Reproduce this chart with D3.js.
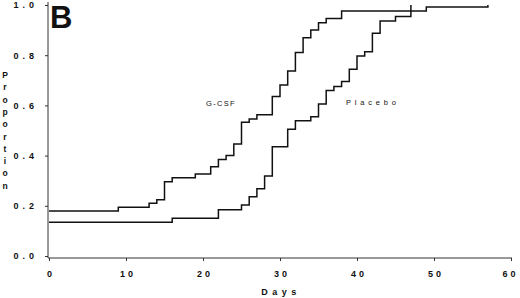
<!DOCTYPE html>
<html>
<head>
<meta charset="utf-8">
<script src="https://cdn.jsdelivr.net/npm/d3@7"></script>
<style>
  body { margin: 0; background: #fff; }
  svg text { font-family: "Liberation Sans", Arial, sans-serif; fill: #111; }
</style>
</head>
<body>
<div id="chart"></div>
<script>
// step points: [day, proportion]
const gcsfDays   = [0, 9, 13, 14, 15, 16, 19, 21, 22, 23, 24, 25, 26, 27, 29, 30, 31, 32, 33, 34, 35, 36, 38, 47];
const gcsfVals   = [0.179, 0.194, 0.21, 0.224, 0.296, 0.312, 0.327, 0.356, 0.384, 0.40, 0.446, 0.533, 0.546, 0.563,
                    0.635, 0.681, 0.737, 0.811, 0.87, 0.90, 0.929, 0.946, 0.976, 1.0];
const placeboDays = [0, 16, 22, 25, 26, 27, 28, 29, 31, 32, 34, 35, 36, 37, 38, 39, 40, 41, 42, 43, 45, 47, 49, 57];
const placeboVals = [0.134, 0.15, 0.184, 0.203, 0.236, 0.268, 0.319, 0.435, 0.505, 0.539, 0.555, 0.606, 0.659,
                     0.675, 0.695, 0.744, 0.797, 0.814, 0.887, 0.936, 0.954, 0.976, 0.992, 1.0];
const xTicks = [0, 10, 20, 30, 40, 50, 60];
const yTicks = [0, 0.2, 0.4, 0.6, 0.8, 1.0];
const yTitle = "Proportion";

const width = 520, height = 298;

const svg = d3.select("#chart").append("svg")
  .attr("width", width)
  .attr("height", height);

const x = d3.scaleLinear().domain([0, 60]).range([49, 511]);
const y = d3.scaleLinear().domain([0, 1]).range([256, 5]);

// axes
const xAxis = svg.append("g")
  .attr("transform", "translate(0,258)")
  .call(d3.axisBottom(x).tickValues(xTicks).tickSize(3).tickSizeOuter(0).tickPadding(10));
xAxis.select(".domain").attr("d", "M48,0H512");

const yAxis = svg.append("g")
  .attr("transform", "translate(48,0)")
  .call(d3.axisLeft(y).tickValues(yTicks).tickFormat(d3.format(".1f")).tickSize(3).tickSizeOuter(0).tickPadding(7));
yAxis.select(".domain").attr("d", "M0,2V258");

svg.selectAll(".domain, .tick line").attr("stroke", "#333").attr("stroke-width", 1);
svg.selectAll(".tick text")
  .attr("font-size", 9)
  .attr("font-weight", "bold")
  .attr("fill", "#111");
yAxis.selectAll(".tick text").attr("letter-spacing", "4px");
xAxis.selectAll(".tick text")
  .attr("letter-spacing", "3px")
  .attr("dx", d => d === 60 ? "-1px" : "1.5px");

// curves
const line = d3.line()
  .x(d => x(d[0]))
  .y(d => y(d[1]))
  .curve(d3.curveStepAfter);

const gcsf = gcsfDays.map((d, i) => [d, gcsfVals[i]]);
const placebo = placeboDays.map((d, i) => [d, placeboVals[i]]);

[gcsf, placebo].forEach(series => {
  svg.append("path")
    .datum(series)
    .attr("d", line)
    .attr("fill", "none")
    .attr("stroke", "#111")
    .attr("stroke-width", 1.5);
});

// labels
svg.append("text")
  .attr("x", 206).attr("y", 106)
  .attr("font-size", 7.5)
  .attr("letter-spacing", "1.3px")
  .text("G-CSF");

svg.append("text")
  .attr("x", 346).attr("y", 105)
  .attr("font-size", 7.5)
  .attr("letter-spacing", "3.8px")
  .text("Placebo");

svg.append("text")
  .attr("x", 281).attr("y", 295)
  .attr("text-anchor", "middle")
  .attr("font-size", 9)
  .attr("font-weight", "bold")
  .attr("letter-spacing", "4.5px")
  .text("Days");

// stacked y title
svg.append("g").selectAll("text")
  .data(yTitle.split(""))
  .join("text")
  .attr("x", 5)
  .attr("y", (d, i) => 78 + i * 12.3)
  .attr("text-anchor", "middle")
  .attr("font-size", 8.5)
  .attr("font-weight", "bold")
  .text(d => d);

svg.append("text")
  .attr("x", 50).attr("y", 28)
  .attr("font-size", 31)
  .attr("font-weight", "bold")
  .text("B");
</script>
</body>
</html>
